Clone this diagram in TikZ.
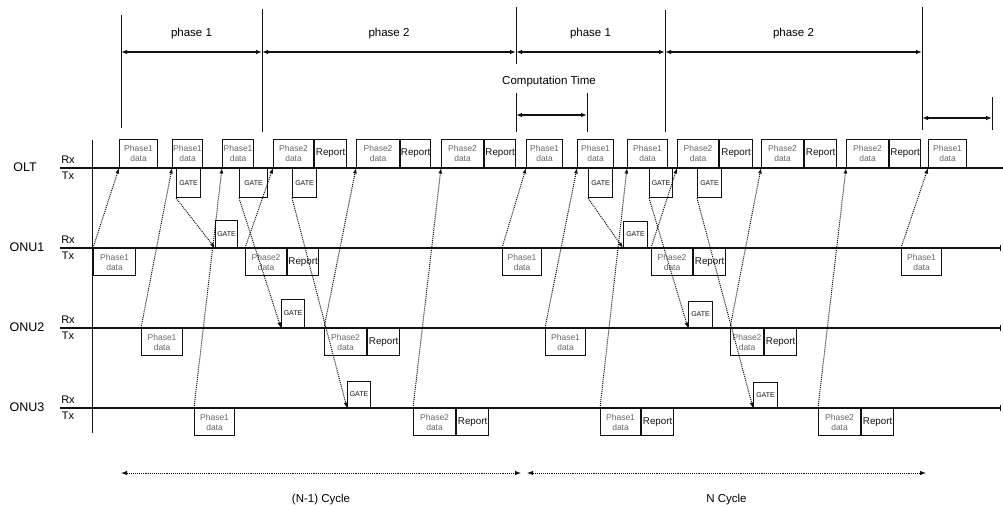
\documentclass[tikz,border=0pt]{standalone}
\usepackage{fontspec}
\setmainfont{Liberation Sans}
\usetikzlibrary{arrows.meta,positioning}
\definecolor{ink}{HTML}{111111}
\definecolor{faded}{HTML}{666666}
\tikzset{>=Latex,
  every node/.style={font=\fontsize{11.5}{13}\selectfont},
  timeline/.style={draw=ink,line width=1.4pt},
  bound/.style={draw=ink,line width=1pt},
  period/.style={{Latex[length=6pt,width=4.5pt]}-{Latex[length=6pt,width=4.5pt]},draw=ink,line width=1.1pt},
  cycleperiod/.style={period,densely dotted,line width=.9pt},
  slot/.style={draw=ink,line width=1.1pt,inner sep=0pt,align=center,text=faded,font=\fontsize{8.5}{10}\selectfont},
  rxbox/.style={slot,anchor=south west,minimum height=28pt},
  txbox/.style={slot,anchor=north west,minimum height=27pt},
  rep/.style={text=ink,font=\fontsize{9.8}{11}\selectfont},
  gate/.style={text=ink,font=\fontsize{7}{8}\selectfont},
  msg/.style={-{Latex[length=5.5pt,width=4pt]},draw=ink,densely dotted,line width=1pt},
  rowlabel/.style={font=\fontsize{12.5}{14}\selectfont},
  rxtx/.style={font=\fontsize{11}{12}\selectfont}}
\begin{document}
\begin{tikzpicture}[x=1pt,y=-1pt]
\useasboundingbox(0,0)rectangle(1003,506);
% phase boundaries
\draw[bound](121,15)--(121,128);
\draw[bound](262,9)--(262,132);
\draw[bound](516,7)--(516,64)(516,93)--(516,132);
\draw[bound](587,93)--(587,132);
\draw[bound](665,10)--(665,132);
\draw[bound](922,7)--(922,130);
\draw[bound](992,97)--(992,130);
\draw[period](121,52)--node[above=9pt](ph1){phase 1}(262,52);
\draw[period](262,52)--node[above=9pt](ph2){phase 2}(516,52);
\draw[period](516,52)--node[above=9pt](ph3){phase 1}(665,52);
\draw[period](665,52)--node[above=9pt](ph4){phase 2}(922,52);
\node(ct)at(549,82){Computation Time};
\draw[period](516,115)--(587,115);
\draw[period](922,118)--(992,118);
% time lines
\draw[bound](92,140)--(92,433);
\draw[timeline](60,168)--(1003,168);
\draw[timeline,-{Bar[width=6pt]}](60,248)--(1001,248);
\draw[timeline,-{Bar[width=6pt]}](60,328)--(1001,328);
\draw[timeline,-{Bar[width=6pt]}](60,408)--(1001,408);
\node[rowlabel](lolt)at(25,167){OLT};\node[rxtx](rx0)at(68,160){Rx};\node[rxtx](tx0)at(68,176){Tx};
\node[rowlabel](lonu1)at(27,247){ONU1};\node[rxtx](rx1)at(68,240){Rx};\node[rxtx](tx1)at(68,256){Tx};
\node[rowlabel](lonu2)at(27,327){ONU2};\node[rxtx](rx2)at(68,320){Rx};\node[rxtx](tx2)at(68,336){Tx};
\node[rowlabel](lonu3)at(27,407){ONU3};\node[rxtx](rx3)at(68,400){Rx};\node[rxtx](tx3)at(68,416){Tx};
% OLT receive slots
\node[rxbox,minimum width=38pt](o1)at(119,168){Phase1\\data};
\node[rxbox,minimum width=30pt](o2)at(172,168){Phase1\\data};
\node[rxbox,minimum width=31pt](o3)at(222,168){Phase1\\data};
\node[rxbox,minimum width=40pt](o4)at(273,168){Phase2\\data};
\node[rxbox,rep,minimum width=32pt,right=0pt of o4](o4r){Report};
\node[rxbox,minimum width=43pt](o5)at(356,168){Phase2\\data};
\node[rxbox,rep,minimum width=30pt,right=0pt of o5](o5r){Report};
\node[rxbox,minimum width=42pt](o6)at(441,168){Phase2\\data};
\node[rxbox,rep,minimum width=31pt,right=0pt of o6](o6r){Report};
\node[rxbox,minimum width=36pt](o7)at(526,168){Phase1\\data};
\node[rxbox,minimum width=36pt](o8)at(577,168){Phase1\\data};
\node[rxbox,minimum width=40pt](o9)at(627,168){Phase1\\data};
\node[rxbox,minimum width=41pt](o10)at(677,168){Phase2\\data};
\node[rxbox,rep,minimum width=33pt,right=0pt of o10](o10r){Report};
\node[rxbox,minimum width=42pt](o11)at(761,168){Phase2\\data};
\node[rxbox,rep,minimum width=32pt,right=0pt of o11](o11r){Report};
\node[rxbox,minimum width=42pt](o12)at(846,168){Phase2\\data};
\node[rxbox,rep,minimum width=31pt,right=0pt of o12](o12r){Report};
\node[rxbox,minimum width=38pt](o13)at(928,168){Phase1\\data};
% OLT GATE messages
\node[txbox,gate,minimum width=24pt,minimum height=29pt](t1)at(176,168){GATE};
\node[txbox,gate,minimum width=28pt,minimum height=29pt](t2)at(239,168){GATE};
\node[txbox,gate,minimum width=24pt,minimum height=29pt](t3)at(292,168){GATE};
\node[txbox,gate,minimum width=24pt,minimum height=29pt](t4)at(588,168){GATE};
\node[txbox,gate,minimum width=23pt,minimum height=29pt](t5)at(649,168){GATE};
\node[txbox,gate,minimum width=24pt,minimum height=29pt](t6)at(697,168){GATE};
% ONU receive GATE
\node[rxbox,gate,minimum width=22pt,minimum height=27pt](a1)at(215,248){GATE};
\node[rxbox,gate,minimum width=24pt,minimum height=26pt](a2)at(623,248){GATE};
\node[rxbox,gate,minimum width=23pt,minimum height=28pt](b1)at(281,328){GATE};
\node[rxbox,gate,minimum width=24pt,minimum height=26pt](b2)at(688,328){GATE};
\node[rxbox,gate,minimum width=23pt,minimum height=26pt](c1)at(347,408){GATE};
\node[rxbox,gate,minimum width=24pt,minimum height=25pt](c2)at(753,408){GATE};
% ONU transmit slots
\node[txbox,minimum width=42pt](p11)at(93,248){Phase1\\data};
\node[txbox,minimum width=41pt](p12)at(245,248){Phase2\\data};
\node[txbox,rep,minimum width=31pt,right=0pt of p12](p12r){Report};
\node[txbox,minimum width=39pt](p13)at(502,248){Phase1\\data};
\node[txbox,minimum width=41pt](p14)at(651,248){Phase2\\data};
\node[txbox,rep,minimum width=32pt,right=0pt of p14](p14r){Report};
\node[txbox,minimum width=40pt](p15)at(901,248){Phase1\\data};
\node[txbox,minimum width=41pt](p21)at(141,328){Phase1\\data};
\node[txbox,minimum width=42pt](p22)at(324,328){Phase2\\data};
\node[txbox,rep,minimum width=32pt,right=0pt of p22](p22r){Report};
\node[txbox,minimum width=40pt](p23)at(545,328){Phase1\\data};
\node[txbox,minimum width=33pt](p24)at(730,328){Phase2\\data};
\node[txbox,rep,minimum width=32pt,right=0pt of p24](p24r){Report};
\node[txbox,minimum width=40pt](p31)at(194,408){Phase1\\data};
\node[txbox,minimum width=42pt](p32)at(413,408){Phase2\\data};
\node[txbox,rep,minimum width=32pt,right=0pt of p32](p32r){Report};
\node[txbox,minimum width=40pt](p33)at(600,408){Phase1\\data};
\node[txbox,rep,minimum width=32pt,right=0pt of p33](p33r){Report};
\node[txbox,minimum width=42pt](p34)at(818,408){Phase2\\data};
\node[txbox,rep,minimum width=32pt,right=0pt of p34](p34r){Report};
% upstream data
\draw[msg](p11.north west)--(o1.south west);
\draw[msg](p21.north west)--(o2.south west);
\draw[msg](p31.north west)--(o3.south west);
\draw[msg](p12.north west)--(o4.south west);
\draw[msg](p22.north west)--(o5.south west);
\draw[msg](p32.north west)--(o6.south west);
\draw[msg](p13.north west)--(o7.south west);
\draw[msg](p23.north west)--(o8.south west);
\draw[msg](p33.north west)--(o9.south west);
\draw[msg](p14.north west)--(o10.south west);
\draw[msg](p24.north west)--(o11.south west);
\draw[msg](p34.north west)--(o12.south west);
\draw[msg](p15.north west)--(o13.south west);
% downstream GATE
\draw[msg](t1.south west)--(a1.south west);
\draw[msg](t2.south west)--(b1.south west);
\draw[msg](t3.south west)--(c1.south west);
\draw[msg](t4.south west)--(a2.south west);
\draw[msg](t5.south west)--(b2.south west);
\draw[msg](t6.south west)--(c2.south west);
% cycles
\draw[cycleperiod](121,473)--node[below=17pt](cy1){(N-1) Cycle}(521,473);
\draw[cycleperiod](527,473)--node[below=17pt](cy2){N Cycle}(926,473);
\end{tikzpicture}
\end{document}
